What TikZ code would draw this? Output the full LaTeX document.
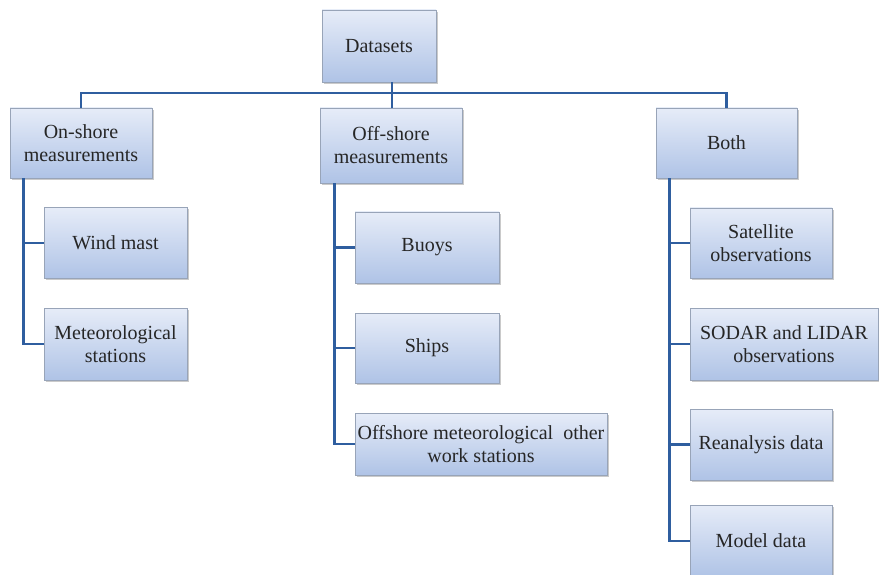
\documentclass[tikz,border=0pt]{standalone}
\usepackage{fontspec}
\setmainfont{Liberation Serif}
\usetikzlibrary{shadows}
\definecolor{linkblue}{HTML}{2F5E9F}
\definecolor{boxtop}{HTML}{E6ECF8}
\definecolor{boxbot}{HTML}{AFC3E6}
\definecolor{boxedge}{HTML}{98A4B8}
\tikzset{
  box/.style={draw=boxedge, line width=0.8pt, top color=boxtop, bottom color=boxbot,
    align=center, inner sep=2pt, text=black!85,
    font=\fontsize{20}{23}\selectfont,
    drop shadow={shadow xshift=1.5pt, shadow yshift=-1.8pt, opacity=0.35, fill=black!60}},
  conn/.style={draw=linkblue, line width=2.9pt}
}
\begin{document}
\begin{tikzpicture}[x=1pt, y=-1pt]
\useasboundingbox (0,0) rectangle (879,575);

% top level
\node[box, minimum width=114pt, minimum height=72pt] (ds) at (379,46) {Datasets};

% second level
\node[box, minimum width=142pt, minimum height=70pt] (on) at (81,143) {On-shore\\measurements};
\node[box, minimum width=142pt, minimum height=75pt] (off) at (391,145.5) {Off-shore\\measurements};
\node[box, minimum width=141pt, minimum height=70pt] (both) at (726.5,143) {Both};

% on-shore children
\node[box, minimum width=143pt, minimum height=71pt] (wind) at (115.5,243) {Wind mast};
\node[box, minimum width=143pt, minimum height=72pt] (met) at (115.5,344) {Meteorological\\stations};

% off-shore children
\node[box, minimum width=144pt, minimum height=71pt] (buoy) at (427,247.5) {Buoys};
\node[box, minimum width=144pt, minimum height=70pt] (ship) at (427,348) {Ships};
\node[box, minimum width=252pt, minimum height=62pt] (omw) at (481,444) {Offshore meteorological\ \ other\\work stations};

% shared children
\node[box, minimum width=142pt, minimum height=70pt] (sat) at (761,243) {Satellite\\observations};
\node[box, minimum width=188pt, minimum height=72pt] (sod) at (784,344) {SODAR and LIDAR\\observations};
\node[box, minimum width=142pt, minimum height=71pt] (rea) at (761,444.5) {Reanalysis data};
\node[box, minimum width=142pt, minimum height=72pt] (mod) at (761,541) {Model data};

% bus from the root to the three groups
\coordinate (bus) at (392,93);
\draw[conn] (on.north) |- (bus) -| (both.north);
\draw[conn] (ds.south -| bus) -- (off.north -| bus);

% group spines
\draw[conn] ([xshift=14pt]on.south west) |- (wind.west);
\draw[conn] ([xshift=14pt]on.south west) |- (met.west);
\draw[conn] ([xshift=15pt]off.south west) |- (buoy.west);
\draw[conn] ([xshift=15pt]off.south west) |- (ship.west);
\draw[conn] ([xshift=15pt]off.south west) |- (omw.west);
\draw[conn] ([xshift=14pt]both.south west) |- (sat.west);
\draw[conn] ([xshift=14pt]both.south west) |- (sod.west);
\draw[conn] ([xshift=14pt]both.south west) |- (rea.west);
\draw[conn] ([xshift=14pt]both.south west) |- (mod.west);
\end{tikzpicture}
\end{document}
